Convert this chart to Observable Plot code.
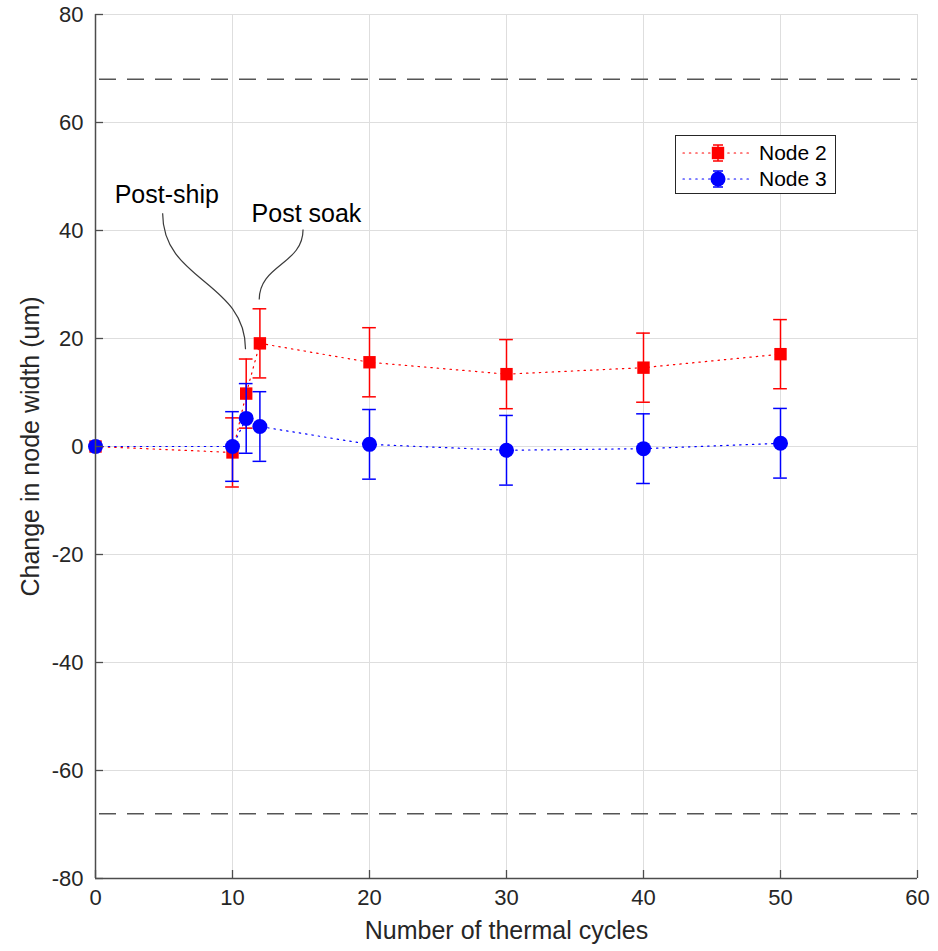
<!DOCTYPE html>
<html>
<head>
<meta charset="utf-8">
<script src="https://cdn.jsdelivr.net/npm/d3@7"></script>
<script src="https://cdn.jsdelivr.net/npm/@observablehq/plot@0.6"></script>
<style>
  html, body { margin: 0; padding: 0; background: #fff; }
  #chart { position: relative; width: 938px; height: 951px; font-family: "Liberation Sans", Arial, sans-serif; }
  #legend { position: absolute; left: 0; top: 0; pointer-events: none; }
</style>
</head>
<body>
<div id="chart"></div>
<script>
// Thermal cycle counts at each measurement
const cycles = [0, 10, 11, 12, 20, 30, 40, 50];
// Change in node width (um) with ± uncertainty
const node2 = [0, -1.1, 9.8, 19.1, 15.6, 13.4, 14.6, 17.1];
const node2Err = [0, 6.4, 6.4, 6.4, 6.4, 6.4, 6.4, 6.4];
const node3 = [0, 0.0, 5.2, 3.7, 0.4, -0.7, -0.4, 0.6];
const node3Err = [0, 6.45, 6.45, 6.45, 6.45, 6.45, 6.45, 6.45];
// Allowable limits
const limits = [68, -68];
const xTicks = [0, 10, 20, 30, 40, 50, 60];
const yTicks = [-80, -60, -40, -20, 0, 20, 40, 60, 80];
// Callouts: label position and leader from label to point
const notes = [
  {text: "Post-ship", tx: 5.2, ty: 46.6, x1: 4.9, y1: 43.2, x2: 10.95, y2: 18.0},
  {text: "Post soak", tx: 15.4, ty: 43.0, x1: 15.15, y1: 40.2, x2: 11.95, y2: 27.2}
];

const series = [
  {name: "Node 2", color: "#ff0000", symbol: "square", r: 7, y: node2, e: node2Err},
  {name: "Node 3", color: "#0000ff", symbol: "circle", r: 7.5, y: node3, e: node3Err}
];
const rows = series.map(s => cycles.map((c, i) => ({series: s.name, x: c, y: s.y[i], e: s.e[i]})));
const capHalf = 0.5; // cap half-width in cycle units

const W = 938, H = 951;
const marks = [
  Plot.gridX(xTicks.filter(d => d > 0), {stroke: "#dedede", strokeOpacity: 1, strokeWidth: 1}),
  Plot.gridY(yTicks.filter(d => d > -80), {stroke: "#dedede", strokeOpacity: 1, strokeWidth: 1}),
  Plot.ruleY(limits, {stroke: "#555", strokeWidth: 1.6, strokeDasharray: "17,11", strokeDashoffset: -4})
];
series.forEach((s, k) => {
  const d = rows[k];
  marks.push(
    Plot.line(d, {x: "x", y: "y", stroke: s.color, strokeWidth: 1.2, strokeDasharray: "1.4,5", strokeLinecap: "round"}),
    Plot.ruleX(d.filter(r => r.e > 0), {x: "x", y1: r => r.y - r.e, y2: r => r.y + r.e, stroke: s.color, strokeWidth: 1.5}),
    Plot.ruleY(d.filter(r => r.e > 0), {y: r => r.y - r.e, x1: r => r.x - capHalf, x2: r => r.x + capHalf, stroke: s.color, strokeWidth: 1.5}),
    Plot.ruleY(d.filter(r => r.e > 0), {y: r => r.y + r.e, x1: r => r.x - capHalf, x2: r => r.x + capHalf, stroke: s.color, strokeWidth: 1.5}),
    Plot.dot(d, {x: "x", y: "y", symbol: s.symbol, r: s.r, fill: s.color, stroke: "none"})
  );
});
marks.push(
  Plot.link(notes, {x1: "x1", y1: "y1", x2: "x2", y2: "y2", curve: "bump-y", stroke: "#3a3a3a", strokeWidth: 1.2}),
  Plot.text(notes, {x: "tx", y: "ty", text: "text", fontSize: 25, fill: "#000"}),
  Plot.axisX(xTicks, {anchor: "bottom", tickSize: 0, tickPadding: 11, fontSize: 22, fill: "#262626", label: null}),
  Plot.axisY(yTicks, {anchor: "left", tickSize: 0, tickPadding: 12, fontSize: 22, fill: "#262626", label: null, tickFormat: d => d}),
  Plot.axisX(xTicks, {anchor: "bottom", tickSize: -8, text: null, stroke: "#4d4d4d", strokeWidth: 1.3, label: null}),
  Plot.axisY(yTicks, {anchor: "left", tickSize: -8, text: null, stroke: "#4d4d4d", strokeWidth: 1.3, label: null}),
  Plot.ruleX([0], {stroke: "#4d4d4d", strokeWidth: 1.5}),
  Plot.ruleY([-80], {stroke: "#4d4d4d", strokeWidth: 1.5}),
  Plot.text(["Number of thermal cycles"], {frameAnchor: "bottom", dy: 60, fontSize: 25, fill: "#262626"}),
  Plot.text(["Change in node width (um)"], {frameAnchor: "left", textAnchor: "middle", dx: -65, rotate: -90, fontSize: 25, fill: "#262626"})
);

const chart = Plot.plot({
  width: W, height: H,
  marginTop: 14, marginRight: 21, marginBottom: 73, marginLeft: 95,
  style: {fontFamily: "'Liberation Sans', Arial, sans-serif", background: "#fff", overflow: "visible"},
  x: {domain: [0, 60], ticks: xTicks},
  y: {domain: [-80, 80], ticks: yTicks},
  marks
});
const host = document.getElementById("chart");
host.appendChild(chart);

// Legend box drawn over the plot area
const lg = d3.select(host).append("svg").attr("id", "legend").attr("width", W).attr("height", H);
const box = {x: 675, y: 135, w: 160, h: 58};
lg.append("rect").attr("x", box.x + 0.5).attr("y", box.y + 0.5).attr("width", box.w).attr("height", box.h)
  .attr("fill", "#fff").attr("stroke", "#262626").attr("stroke-width", 1);
series.forEach((s, i) => {
  const cy = box.y + 18 + i * 26;
  const g = lg.append("g");
  g.append("line").attr("x1", box.x + 8).attr("x2", box.x + 74).attr("y1", cy).attr("y2", cy)
    .attr("stroke", s.color).attr("stroke-width", 1.2).attr("stroke-dasharray", "1.4,5").attr("stroke-linecap", "round");
  const mx = box.x + 43;
  g.append("line").attr("x1", mx).attr("x2", mx).attr("y1", cy - 8).attr("y2", cy + 8).attr("stroke", s.color).attr("stroke-width", 1.5);
  [-8, 8].forEach(o => g.append("line").attr("x1", mx - 5).attr("x2", mx + 5).attr("y1", cy + o).attr("y2", cy + o).attr("stroke", s.color).attr("stroke-width", 1.5));
  g.append("path").attr("transform", `translate(${mx},${cy})`)
    .attr("d", d3.symbol(s.symbol === "square" ? d3.symbolSquare : d3.symbolCircle, s.r * s.r * Math.PI)())
    .attr("fill", s.color);
  g.append("text").attr("x", box.x + 84).attr("y", cy).attr("dy", "0.35em")
    .attr("font-size", 21).attr("fill", "#000").attr("font-family", "'Liberation Sans', Arial, sans-serif").text(s.name);
});
</script>
</body>
</html>
